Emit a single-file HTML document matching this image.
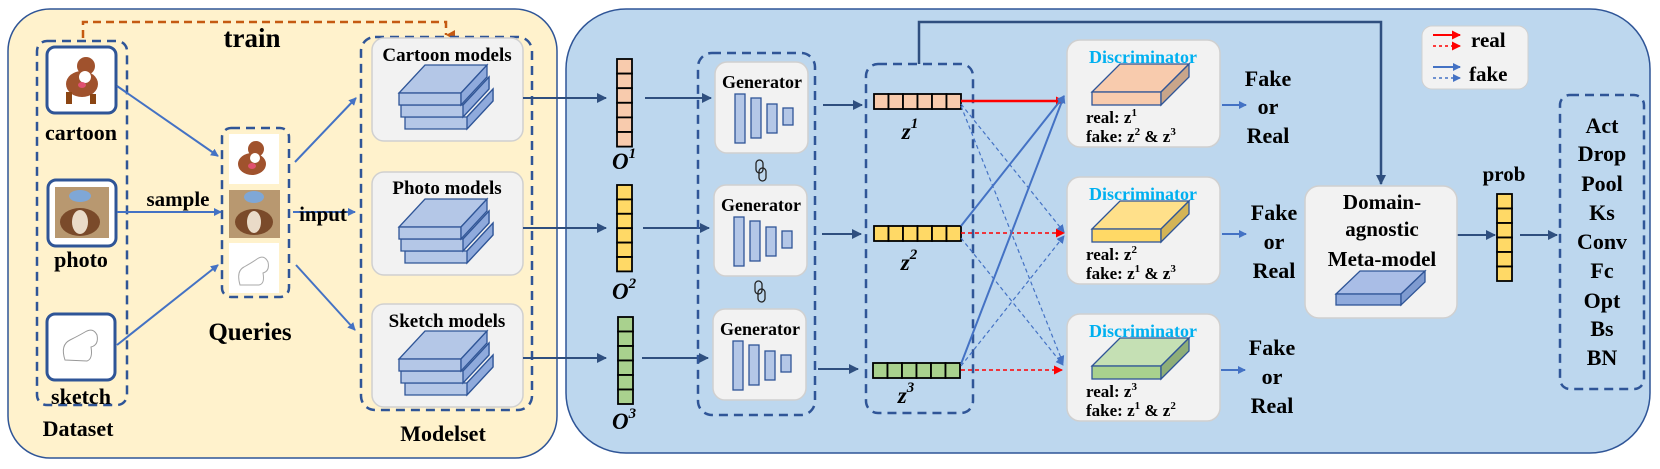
<!DOCTYPE html>
<html><head><meta charset="utf-8"><style>
html,body{margin:0;padding:0;background:#fff;}
svg{display:block;font-family:"Liberation Serif",serif;font-weight:bold;}
</style></head><body>
<svg width="1660" height="469" viewBox="0 0 1660 469" xmlns="http://www.w3.org/2000/svg">
<defs>
<marker id="ab" markerWidth="8" markerHeight="8" refX="7" refY="4" orient="auto" markerUnits="userSpaceOnUse"><path d="M0,0 L8,4 L0,8 z" fill="#4472c4"/></marker>
<marker id="ad" markerWidth="10" markerHeight="10" refX="9" refY="5" orient="auto" markerUnits="userSpaceOnUse"><path d="M0,0 L10,5 L0,10 z" fill="#2f4f7f"/></marker>
<marker id="ar" markerWidth="9" markerHeight="9" refX="8" refY="4.5" orient="auto" markerUnits="userSpaceOnUse"><path d="M0,0 L9,4.5 L0,9 z" fill="#ff0000"/></marker>
<marker id="ao" markerWidth="10" markerHeight="10" refX="5" refY="9" orient="auto" markerUnits="userSpaceOnUse"><path d="M0,0 L10,0 L5,9 z" fill="#c55a11"/></marker>
</defs>

<rect x="8" y="9" width="549" height="449" rx="42" fill="#fff2cc" stroke="#2f5597" stroke-width="1.5"/>
<rect x="566" y="9" width="1084" height="444" rx="60" fill="#bdd7ee" stroke="#2f5597" stroke-width="1.5"/>

<path d="M83,38 V22 H446 V35" fill="none" stroke="#c55a11" stroke-width="2.5" stroke-dasharray="8,5" marker-end="url(#ao)"/>
<text x="252" y="47" font-size="27" text-anchor="middle">train</text>

<rect x="37" y="41" width="90" height="364" rx="10" fill="none" stroke="#2f5597" stroke-width="2.5" stroke-dasharray="9,6"/>
<rect x="47" y="47" width="69" height="66" rx="8" fill="#fff" stroke="#2f5597" stroke-width="3"/>
<g>
<ellipse cx="82" cy="84" rx="16" ry="13" fill="#a0522d"/><circle cx="86" cy="66" r="9" fill="#a0522d"/><circle cx="85" cy="77" r="6" fill="#fff"/><ellipse cx="82" cy="85" rx="4" ry="3" fill="#e05070"/><rect x="66" y="92" width="6" height="12" fill="#8b4513"/><rect x="90" y="94" width="6" height="10" fill="#8b4513"/>
</g>
<text x="81" y="140" font-size="22" text-anchor="middle">cartoon</text>
<rect x="48" y="180" width="68" height="66" rx="8" fill="#fff" stroke="#2f5597" stroke-width="3"/>
<rect x="55" y="187" width="54" height="51" fill="#b89870"/><ellipse cx="80" cy="222" rx="20" ry="14" fill="#7a4a2a"/><ellipse cx="80" cy="222" rx="8" ry="12" fill="#eadbc8"/><ellipse cx="80" cy="196" rx="11" ry="6" fill="#7fa7d6"/>
<text x="81" y="267" font-size="22" text-anchor="middle">photo</text>
<rect x="47" y="314" width="68" height="66" rx="8" fill="#fff" stroke="#2f5597" stroke-width="3"/>
<path d="M65,360 q-5,-15 5,-20 q10,-5 15,-8 q8,-5 12,3 q2,10 -6,12 q2,12 -4,14 z" fill="none" stroke="#999" stroke-width="1"/>
<text x="81" y="404" font-size="22" text-anchor="middle">sketch</text>
<text x="78" y="436" font-size="22" text-anchor="middle">Dataset</text>

<rect x="222" y="128" width="67" height="169" rx="9" fill="none" stroke="#2f5597" stroke-width="2.5" stroke-dasharray="9,6"/>
<rect x="229" y="134" width="50" height="50" fill="#fff"/>
<ellipse cx="252" cy="164" rx="14" ry="11" fill="#a0522d"/><circle cx="256" cy="149" r="8" fill="#a0522d"/><circle cx="255" cy="158" r="5" fill="#fff"/><ellipse cx="252" cy="166" rx="4" ry="3" fill="#e05070"/>
<rect x="229" y="190" width="51" height="48" fill="#b89870"/><ellipse cx="254" cy="222" rx="19" ry="13" fill="#7a4a2a"/><ellipse cx="254" cy="222" rx="7" ry="11" fill="#eadbc8"/><ellipse cx="254" cy="197" rx="10" ry="6" fill="#7fa7d6"/>
<rect x="229" y="243" width="50" height="50" fill="#fff"/>
<path d="M240,285 q-4,-14 4,-18 q9,-5 13,-8 q7,-5 11,3 q2,9 -5,11 q2,11 -4,12 z" fill="none" stroke="#aaa" stroke-width="1"/>
<text x="250" y="340" font-size="25" text-anchor="middle">Queries</text>

<g stroke="#4472c4" stroke-width="2" fill="none" marker-end="url(#ab)">
<line x1="117" y1="86" x2="218" y2="156"/>
<line x1="117" y1="212" x2="221" y2="212"/>
<line x1="117" y1="345" x2="218" y2="265"/>
<line x1="295" y1="162" x2="356" y2="98"/>
<line x1="293" y1="212" x2="355" y2="212"/>
<line x1="296" y1="265" x2="355" y2="330"/>
</g>
<text x="178" y="206" font-size="21" text-anchor="middle">sample</text>
<text x="323" y="221" font-size="21" text-anchor="middle">input</text>

<rect x="361" y="37" width="171" height="373" rx="14" fill="none" stroke="#2f5597" stroke-width="2.5" stroke-dasharray="9,6"/>
<g id="mbox">
<rect x="372" y="38" width="151" height="103" rx="12" fill="#f2f2f2" stroke="#d0d0d0" stroke-width="1.5"/>
<g stroke="#2f5597" stroke-width="1.3">
<path d="M405,117 h62 l26,-28 v12 l-26,28 h-62 z" fill="#b4c7e7"/><path d="M467,117 l26,-28 v12 l-26,28 z" fill="#8faadc"/>
<path d="M401,105 h62 l26,-28 v12 l-26,28 h-62 z" fill="#b4c7e7"/><path d="M463,105 l26,-28 v12 l-26,28 z" fill="#8faadc"/>
<path d="M399,93 h62 l26,-28 h-62 z" fill="#b4c7e7"/>
<rect x="399" y="93" width="62" height="12" fill="#b4c7e7"/><path d="M461,93 l26,-28 v12 l-26,28 z" fill="#8faadc"/>
</g>
</g>
<use href="#mbox" y="134"/>
<use href="#mbox" y="266"/>
<text x="447" y="61" font-size="19" text-anchor="middle">Cartoon models</text>
<text x="447" y="194" font-size="19" text-anchor="middle">Photo models</text>
<text x="447" y="327" font-size="19" text-anchor="middle">Sketch models</text>
<text x="443" y="441" font-size="22" text-anchor="middle">Modelset</text>

<g stroke="#2f4f7f" stroke-width="2" marker-end="url(#ad)">
<line x1="523" y1="98" x2="606" y2="98"/>
<line x1="523" y1="228" x2="606" y2="228"/>
<line x1="523" y1="358" x2="606" y2="358"/>
<line x1="645" y1="98" x2="711" y2="98"/>
<line x1="643" y1="228" x2="709" y2="228"/>
<line x1="642" y1="358" x2="708" y2="358"/>
<line x1="823" y1="105" x2="862" y2="105"/>
<line x1="822" y1="234" x2="861" y2="234"/>
<line x1="818" y1="369" x2="858" y2="369"/>
<line x1="1457" y1="235" x2="1495" y2="235"/>
<line x1="1520" y1="235" x2="1557" y2="235"/>
</g>

<g stroke="#000" stroke-width="1.8">
<g fill="#f8cbad"><rect x="617" y="59" width="15" height="14.6"/><rect x="617" y="73.6" width="15" height="14.6"/><rect x="617" y="88.2" width="15" height="14.6"/><rect x="617" y="102.8" width="15" height="14.6"/><rect x="617" y="117.4" width="15" height="14.6"/><rect x="617" y="132" width="15" height="14.6"/></g>
<g fill="#ffd966"><rect x="617" y="185" width="15" height="14.4"/><rect x="617" y="199.4" width="15" height="14.4"/><rect x="617" y="213.8" width="15" height="14.4"/><rect x="617" y="228.2" width="15" height="14.4"/><rect x="617" y="242.6" width="15" height="14.4"/><rect x="617" y="257" width="15" height="14.4"/></g>
<g fill="#a9d18e"><rect x="618" y="317" width="15" height="14.5"/><rect x="618" y="331.5" width="15" height="14.5"/><rect x="618" y="346" width="15" height="14.5"/><rect x="618" y="360.5" width="15" height="14.5"/><rect x="618" y="375" width="15" height="14.5"/><rect x="618" y="389.5" width="15" height="14.5"/></g>
<g fill="#ffd966"><rect x="1497" y="194" width="15" height="14.5"/><rect x="1497" y="208.5" width="15" height="14.5"/><rect x="1497" y="223" width="15" height="14.5"/><rect x="1497" y="237.5" width="15" height="14.5"/><rect x="1497" y="252" width="15" height="14.5"/><rect x="1497" y="266.5" width="15" height="14.5"/></g>
</g>
<g font-style="italic" font-size="23" stroke="none">
<text x="612" y="169">O<tspan font-size="15" dy="-11">1</tspan></text>
<text x="612" y="299">O<tspan font-size="15" dy="-11">2</tspan></text>
<text x="612" y="429">O<tspan font-size="15" dy="-11">3</tspan></text>
<text x="910" y="139" text-anchor="middle">z<tspan font-size="15" dy="-11">1</tspan></text>
<text x="909" y="270" text-anchor="middle">z<tspan font-size="15" dy="-11">2</tspan></text>
<text x="906" y="403" text-anchor="middle">z<tspan font-size="15" dy="-11">3</tspan></text>
</g>

<rect x="698" y="53" width="117" height="362" rx="14" fill="none" stroke="#2f5597" stroke-width="2.5" stroke-dasharray="9,6"/>
<g id="gen">
<rect x="715" y="62" width="93" height="91" rx="12" fill="#f2f2f2" stroke="#d0d0d0" stroke-width="1.5"/>
<g fill="#b4c7e7" stroke="#2f5597" stroke-width="1.3"><rect x="735" y="94" width="10" height="49"/><rect x="751" y="98" width="10" height="40"/><rect x="767" y="104" width="10" height="29"/><rect x="783" y="108" width="10" height="17"/></g>
</g>
<use href="#gen" x="-1" y="123"/>
<use href="#gen" x="-2" y="247"/>
<text x="762" y="88" font-size="18" text-anchor="middle">Generator</text>
<text x="761" y="211" font-size="18" text-anchor="middle">Generator</text>
<text x="760" y="335" font-size="18" text-anchor="middle">Generator</text>
<g fill="none" stroke="#222" stroke-width="1.3">
<rect x="756" y="160" width="7" height="13" rx="3.5"/><rect x="759" y="168" width="7" height="13" rx="3.5"/>
<rect x="755" y="281" width="7" height="13" rx="3.5"/><rect x="758" y="289" width="7" height="13" rx="3.5"/>
</g>

<rect x="866" y="64" width="107" height="349" rx="12" fill="none" stroke="#2f5597" stroke-width="2.5" stroke-dasharray="9,6"/>
<path d="M919,64 V22 H1381 V184" fill="none" stroke="#2f4f7f" stroke-width="2.5" marker-end="url(#ad)"/>
<g stroke="#000" stroke-width="1.8">
<g fill="#f8cbad"><rect x="874" y="94" width="14.5" height="15"/><rect x="888.5" y="94" width="14.5" height="15"/><rect x="903" y="94" width="14.5" height="15"/><rect x="917.5" y="94" width="14.5" height="15"/><rect x="932" y="94" width="14.5" height="15"/><rect x="946.5" y="94" width="14.5" height="15"/></g>
<g fill="#ffd966"><rect x="874" y="226" width="14.5" height="15"/><rect x="888.5" y="226" width="14.5" height="15"/><rect x="903" y="226" width="14.5" height="15"/><rect x="917.5" y="226" width="14.5" height="15"/><rect x="932" y="226" width="14.5" height="15"/><rect x="946.5" y="226" width="14.5" height="15"/></g>
<g fill="#a9d18e"><rect x="873" y="363" width="14.5" height="15"/><rect x="887.5" y="363" width="14.5" height="15"/><rect x="902" y="363" width="14.5" height="15"/><rect x="916.5" y="363" width="14.5" height="15"/><rect x="931" y="363" width="14.5" height="15"/><rect x="945.5" y="363" width="14.5" height="15"/></g>
</g>

<line x1="961" y1="101" x2="1064" y2="101" stroke="#ff0000" stroke-width="2.5" marker-end="url(#ar)"/>
<line x1="961" y1="233" x2="1064" y2="233" stroke="#ff0000" stroke-width="1.5" stroke-dasharray="4,3" marker-end="url(#ar)"/>
<line x1="961" y1="370" x2="1062" y2="370" stroke="#ff0000" stroke-width="1.5" stroke-dasharray="4,3" marker-end="url(#ar)"/>
<g stroke="#4472c4" stroke-width="2" marker-end="url(#ab)">
<line x1="961" y1="226" x2="1064" y2="96"/>
<line x1="961" y1="364" x2="1064" y2="96"/>
</g>
<g stroke="#4472c4" stroke-width="1.2" stroke-dasharray="4,3" marker-end="url(#ab)">
<line x1="961" y1="104" x2="1064" y2="232"/>
<line x1="961" y1="106" x2="1063" y2="363"/>
<line x1="961" y1="238" x2="1063" y2="365"/>
<line x1="961" y1="366" x2="1064" y2="236"/>
</g>

<g id="disc">
<rect x="1067" y="40" width="153" height="107" rx="13" fill="#f2f2f2" stroke="#d0d0d0" stroke-width="1.5"/>
</g>
<use href="#disc" y="137"/>
<use href="#disc" y="274"/>
<g stroke="#2f5597" stroke-width="1.3">
<path d="M1092,92 l28,-28 h69 l-28,28 z" fill="#f8cbad"/><rect x="1092" y="92" width="69" height="13" fill="#f8cbad"/><path d="M1161,92 l28,-28 v13 l-28,28 z" fill="#c9a58a"/>
<path d="M1092,229 l28,-28 h69 l-28,28 z" fill="#ffe08a"/><rect x="1092" y="229" width="69" height="13" fill="#ffd966"/><path d="M1161,229 l28,-28 v13 l-28,28 z" fill="#d4b456"/>
<path d="M1092,366 l28,-28 h69 l-28,28 z" fill="#c5e0b4"/><rect x="1092" y="366" width="69" height="13" fill="#a9d18e"/><path d="M1161,366 l28,-28 v13 l-28,28 z" fill="#8fae78"/>
</g>
<g font-size="18" fill="#00b0f0" text-anchor="middle">
<text x="1143" y="63">Discriminator</text>
<text x="1143" y="200">Discriminator</text>
<text x="1143" y="337">Discriminator</text>
</g>
<g font-size="17">
<text x="1086" y="123">real: z<tspan font-size="11" dy="-7">1</tspan></text>
<text x="1086" y="142">fake: z<tspan font-size="11" dy="-7">2</tspan><tspan dy="7"> &amp; z</tspan><tspan font-size="11" dy="-7">3</tspan></text>
<text x="1086" y="260">real: z<tspan font-size="11" dy="-7">2</tspan></text>
<text x="1086" y="279">fake: z<tspan font-size="11" dy="-7">1</tspan><tspan dy="7"> &amp; z</tspan><tspan font-size="11" dy="-7">3</tspan></text>
<text x="1086" y="397">real: z<tspan font-size="11" dy="-7">3</tspan></text>
<text x="1086" y="416">fake: z<tspan font-size="11" dy="-7">1</tspan><tspan dy="7"> &amp; z</tspan><tspan font-size="11" dy="-7">2</tspan></text>
</g>
<g stroke="#4472c4" stroke-width="2" marker-end="url(#ab)">
<line x1="1222" y1="105" x2="1246" y2="105"/>
<line x1="1222" y1="234" x2="1246" y2="234"/>
<line x1="1221" y1="370" x2="1245" y2="370"/>
</g>
<g font-size="22" text-anchor="middle">
<text x="1268" y="86">Fake</text><text x="1268" y="114">or</text><text x="1268" y="143">Real</text>
<text x="1274" y="220">Fake</text><text x="1274" y="249">or</text><text x="1274" y="278">Real</text>
<text x="1272" y="355">Fake</text><text x="1272" y="384">or</text><text x="1272" y="413">Real</text>
</g>

<rect x="1305" y="186" width="152" height="132" rx="14" fill="#f2f2f2" stroke="#d0d0d0" stroke-width="1.5"/>
<g font-size="21" text-anchor="middle">
<text x="1382" y="209">Domain-</text>
<text x="1382" y="236">agnostic</text>
<text x="1382" y="266">Meta-model</text>
</g>
<g stroke="#2f5597" stroke-width="1.3">
<path d="M1336,294 l24,-23 h65 l-24,23 z" fill="#a9bde6"/><rect x="1336" y="294" width="65" height="11" fill="#8faadc"/><path d="M1401,294 l24,-23 v11 l-24,23 z" fill="#7f9bd0"/>
</g>
<text x="1504" y="181" font-size="21" text-anchor="middle">prob</text>

<rect x="1422" y="26" width="106" height="63" rx="10" fill="#f2f2f2" stroke="#d0d0d0" stroke-width="1"/>
<line x1="1433" y1="35" x2="1460" y2="35" stroke="#ff0000" stroke-width="2" marker-end="url(#ar)"/>
<line x1="1433" y1="46" x2="1460" y2="46" stroke="#ff0000" stroke-width="1.5" stroke-dasharray="3,3" marker-end="url(#ar)"/>
<line x1="1433" y1="67" x2="1460" y2="67" stroke="#4472c4" stroke-width="2" marker-end="url(#ab)"/>
<line x1="1433" y1="78" x2="1460" y2="78" stroke="#4472c4" stroke-width="1.5" stroke-dasharray="3,3" marker-end="url(#ab)"/>
<text x="1471" y="47" font-size="21">real</text>
<text x="1469" y="81" font-size="21">fake</text>

<rect x="1560" y="95" width="84" height="294" rx="10" fill="none" stroke="#2f5597" stroke-width="2.5" stroke-dasharray="9,6"/>
<g font-size="22" text-anchor="middle">
<text x="1602" y="133">Act</text><text x="1602" y="161">Drop</text><text x="1602" y="191">Pool</text><text x="1602" y="220">Ks</text><text x="1602" y="249">Conv</text><text x="1602" y="278">Fc</text><text x="1602" y="308">Opt</text><text x="1602" y="336">Bs</text><text x="1602" y="365">BN</text>
</g>
</svg>
</body></html>
